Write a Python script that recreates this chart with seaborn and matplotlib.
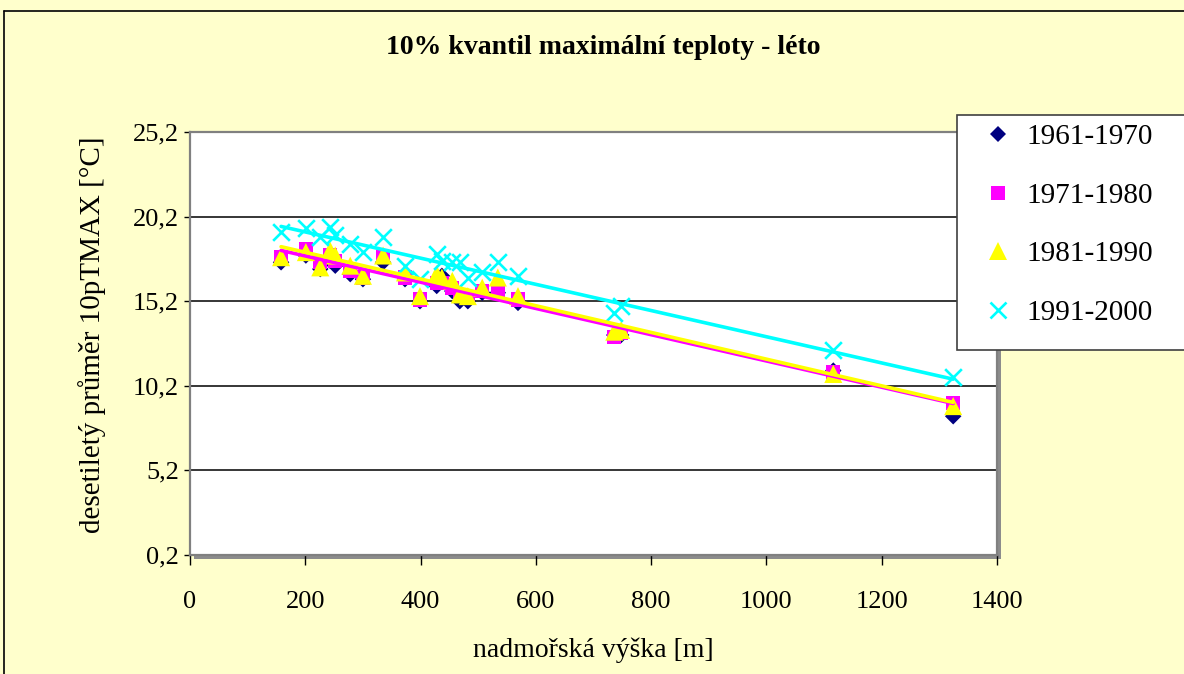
import matplotlib
matplotlib.use("Agg")
import matplotlib.pyplot as plt
from matplotlib.patches import Rectangle
from matplotlib.lines import Line2D
import seaborn as sns
import pandas as pd

# Station altitudes [m]
altitude = [158, 201, 226, 243, 252, 278, 300, 335, 373, 399, 428,
            437, 455, 468, 482, 507, 534, 569, 736, 748, 1116, 1324]

# Decadal mean of the 10% quantile of summer maximum temperature [°C]
t_1961_1970 = [17.5, 17.9, 17.1, 17.6, 17.3, 16.8, 16.5, 17.5, 16.5, 15.2, 16.1,
               16.7, 15.8, 15.2, 15.2, 15.7, 15.7, 15.1, 13.2, 13.2, 11.1, 8.4]
t_1971_1980 = [17.8, 18.3, 17.5, 17.9, 17.6, 17.0, 16.6, 17.8, 16.6, 15.3, 16.3,
               16.3, 16.0, 15.5, 15.4, 15.8, 15.8, 15.3, 13.1, 13.3, 11.0, 9.2]
t_1981_1990 = [17.8, 18.1, 17.2, 18.2, 17.9, 17.3, 16.7, 17.9, 16.9, 15.5, 16.8,
               16.6, 16.4, 15.6, 15.5, 16.0, 16.6, 15.5, 13.4, 13.5, 10.9, 9.0]
t_1991_2000 = [19.3, 19.5, 19.0, 19.6, 19.1, 18.6, 18.1, 19.0, 17.3, 16.5, 18.0,
               17.6, 17.5, 17.5, 16.6, 16.9, 17.5, 16.7, 14.5, 14.9, 12.3, 10.7]

decades = ["1961-1970", "1971-1980", "1981-1990", "1991-2000"]
trend_decades = ["1971-1980", "1981-1990", "1991-2000"]
x_ticks = [0, 200, 400, 600, 800, 1000, 1200, 1400]
y_ticks = [0.2, 5.2, 10.2, 15.2, 20.2, 25.2]
y_tick_labels = ["0,2", "5,2", "10,2", "15,2", "20,2", "25,2"]

title = "10% kvantil maximální teploty - léto"
x_label = "nadmořská výška [m]"
y_label = "desetiletý průměr 10pTMAX [°C]"

sns.set_theme(style="white")
plt.rcParams["font.family"] = ["Liberation Serif", "DejaVu Serif"]
plt.rcParams["text.color"] = "black"
plt.rcParams["xtick.color"] = "black"
plt.rcParams["ytick.color"] = "black"

W, H = 1184, 674
fig = plt.figure(figsize=(W / 100, H / 100), dpi=100, facecolor="#FFFFCC")


def fx(px):
    return px / W


def fy(py):
    return 1 - py / H


# chart-area frame (top and left edges)
fig.add_artist(Line2D([fx(4), fx(4)], [fy(11), 0], color="black", lw=1.2))
fig.add_artist(Line2D([fx(4), 1], [fy(11), fy(11)], color="black", lw=1.2))

# plot-area shadow
fig.add_artist(Rectangle((fx(194), fy(559)), fx(807), 423 / H,
                         transform=fig.transFigure, facecolor="#8c8c8c",
                         edgecolor="none", zorder=-1))

ax = fig.add_axes([fx(190), fy(555), fx(807), 423 / H])
ax.set_facecolor("white")

frame = pd.DataFrame({
    "altitude": altitude * 4,
    "temp": t_1961_1970 + t_1971_1980 + t_1981_1990 + t_1991_2000,
    "decade": sum([[d] * len(altitude) for d in decades], []),
})

colors = {"1961-1970": "#000080", "1971-1980": "#FF00FF",
          "1981-1990": "#FFFF00", "1991-2000": "#00FFFF"}
markers = {"1961-1970": "D", "1971-1980": "s",
           "1981-1990": "^", "1991-2000": "x"}
msize = {"1961-1970": 8.4, "1971-1980": 10.2,
         "1981-1990": 13.0, "1991-2000": 12.0}

handles = []
for i, d in enumerate(decades):
    sub = frame[frame["decade"] == d]
    if d == "1991-2000":
        sns.scatterplot(data=sub, x="altitude", y="temp", ax=ax, marker="x",
                        s=msize[d] ** 2, color=colors[d], linewidth=1.9,
                        zorder=3 + i, legend=False)
        h = Line2D([], [], marker="x", linestyle="none", color=colors[d],
                   markersize=msize[d], markeredgewidth=1.9)
    else:
        sns.scatterplot(data=sub, x="altitude", y="temp", ax=ax,
                        marker=markers[d], s=msize[d] ** 2, color=colors[d],
                        edgecolor="none", linewidth=0, zorder=3 + i,
                        legend=False)
        h = Line2D([], [], marker=markers[d], linestyle="none",
                   color=colors[d], markeredgewidth=0,
                   markersize=msize[d])
    handles.append(h)

# linear trends
for i, d in enumerate(trend_decades):
    sub = frame[frame["decade"] == d]
    sns.regplot(data=sub, x="altitude", y="temp", ax=ax, scatter=False,
                ci=None, truncate=True,
                line_kws={"color": colors[d], "lw": 2.6, "zorder": 8 + i})

ax.set_xlim(0, 1400)
ax.set_ylim(0.2, 25.2)
ax.set_xticks(x_ticks)
ax.set_xticklabels([str(v) for v in x_ticks])
ax.set_yticks(y_ticks)
ax.set_yticklabels(y_tick_labels)
ax.grid(False)
for v in y_ticks[1:-1]:
    ax.axhline(v, color="black", lw=1.1, zorder=1)

for s in ax.spines.values():
    s.set_color("#808080")
    s.set_linewidth(1.6)

ax.tick_params(axis="x", direction="out", length=7, width=1, color="black",
               pad=19, labelsize=19, bottom=True)
ax.tick_params(axis="y", direction="out", length=4, width=1, color="black",
               pad=4, labelsize=19, left=True)

ax.set_xlabel("")
ax.set_ylabel("")
fig.text(fx(593), fy(650), x_label, ha="center", va="center", fontsize=20)
fig.text(fx(92), fy(335), y_label, ha="center", va="center", fontsize=21,
         rotation=90)
fig.text(fx(603), fy(48), title, ha="center", va="center", fontsize=20,
         fontweight="bold")

# legend box
fig.add_artist(Rectangle((fx(957), fy(350)), fx(240), 235 / H,
                         transform=fig.transFigure, facecolor="white",
                         edgecolor="#404040", lw=1.2, zorder=5))
leg = fig.legend(handles, decades, loc="upper left",
                 bbox_to_anchor=(fx(986), fy(124)), frameon=False,
                 fontsize=21, labelspacing=1.1, handlelength=0.8,
                 handletextpad=0.6, borderaxespad=0, borderpad=0)
leg.set_zorder(6)

fig.savefig("out.png", dpi=100, facecolor=fig.get_facecolor())
